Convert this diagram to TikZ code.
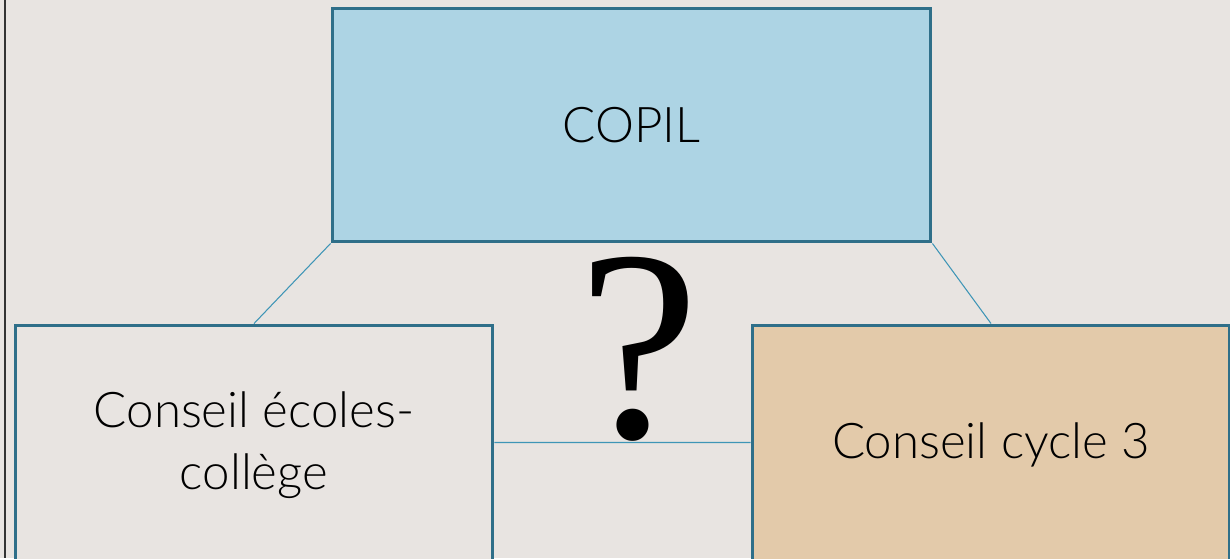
\documentclass[tikz,border=0pt]{standalone}
\usepackage{fontspec}
\setmainfont{Lato}[UprightFont=* Light]
\newfontfamily\askfont{Liberation Serif}
\usetikzlibrary{positioning}
\definecolor{paper}{HTML}{E8E4E1}
\definecolor{copilblue}{HTML}{ADD4E4}
\definecolor{boxline}{HTML}{2F6F89}
\definecolor{linkblue}{HTML}{3E95B6}
\definecolor{cycletan}{HTML}{E3CAAA}

\begin{document}
\begin{tikzpicture}[x=0.02cm, y=-0.02cm,
  box/.style={draw=boxline, line width=1.7pt, minimum width=9.56cm, minimum height=4.8cm,
              inner sep=0pt, align=center, font=\fontsize{28}{35}\selectfont},
  link/.style={draw=linkblue, line width=0.6pt}]
\fill[paper] (0,0) rectangle (1230,558);
\useasboundingbox (0,0) rectangle (1230,558);
\clip (0,0) rectangle (1230,558);
\draw[black!80, line width=1.1pt] (5,0) -- (5,558);

% the three councils
\node[box, fill=copilblue, minimum width=11.98cm, minimum height=4.68cm] (copil) at (631.5,125) {COPIL};
\node[box, fill=paper]     (ecoles) at (254,445) {Conseil écoles-\\collège};
\node[box, fill=cycletan]  (cycle)  at (991,445) {Conseil cycle 3};

\path[link] (copil.south west) -- (ecoles.north)
            (copil.south east) -- (cycle.north)
            ([yshift=0.05cm]ecoles.east) -- ([yshift=0.05cm]cycle.west);

\node[font=\askfont\fontsize{155}{155}\selectfont, anchor=base, inner sep=0pt] (ask) at (639,437) {?};
\end{tikzpicture}
\end{document}
